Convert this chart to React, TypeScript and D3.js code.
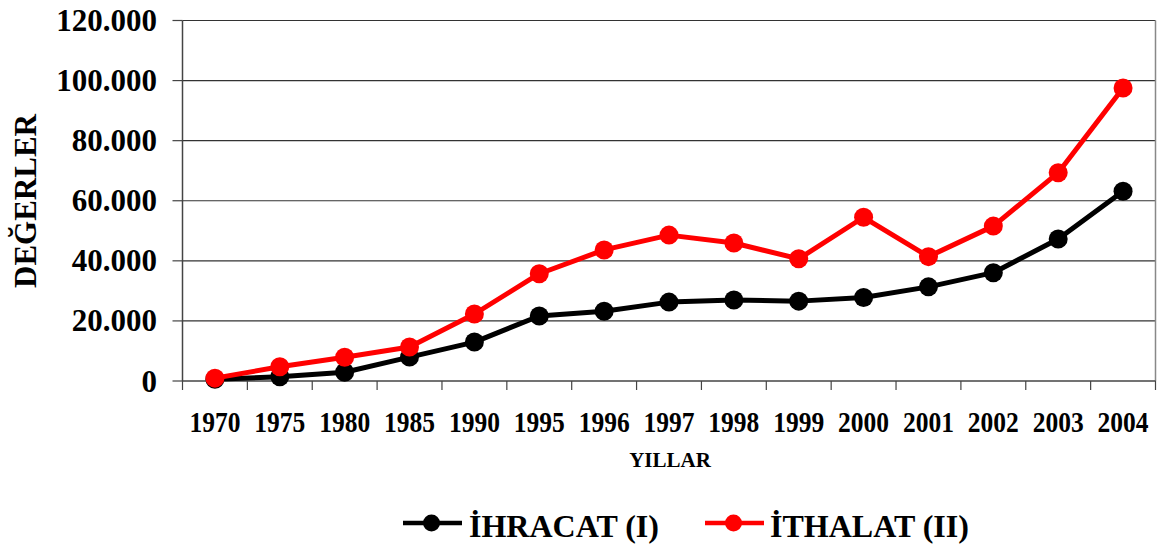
import { useEffect, useRef } from 'react';
import * as d3 from 'd3';

const years = ['1970', '1975', '1980', '1985', '1990', '1995', '1996', '1997', '1998', '1999', '2000', '2001', '2002', '2003', '2004'];
const ihracat = [588, 1401, 2910, 7958, 12959, 21637, 23224, 26261, 26974, 26587, 27775, 31334, 36059, 47253, 63167];
const ithalat = [948, 4739, 7909, 11343, 22302, 35709, 43627, 48559, 45921, 40671, 54503, 41399, 51554, 69340, 97540];
const yTicks = [0, 20000, 40000, 60000, 80000, 100000, 120000];
const seriesNames = ['İHRACAT (I)', 'İTHALAT (II)'];
const seriesColors = ['#000000', '#ff0000'];

const W = 1158;
const H = 544;
const FONT = '"Liberation Serif", "Times New Roman", serif';

export default function App() {
  const svgRef = useRef<SVGSVGElement>(null);

  useEffect(() => {
    const svg = d3.select(svgRef.current);
    svg.selectAll('*').remove();

    const left = 182.5, right = 1155.5, top = 20.5, bottom = 381;

    const x = d3.scaleBand().domain(years).range([left, right]);
    const y = d3.scaleLinear().domain([0, 120000]).range([bottom, top]);
    const cx = (yr: string) => (x(yr) as number) + x.bandwidth() / 2;

    const fmt = d3.formatLocale({ decimal: ',', thousands: '.', grouping: [3], currency: ['', ''] }).format(',d');

    // gridlines
    svg.append('g')
      .selectAll('line')
      .data(yTicks.slice(1))
      .enter()
      .append('line')
      .attr('x1', left).attr('x2', right)
      .attr('y1', d => y(d)).attr('y2', d => y(d))
      .attr('stroke', '#333')
      .attr('stroke-width', 1.2);

    // frame right
    svg.append('line')
      .attr('x1', right).attr('x2', right).attr('y1', top).attr('y2', bottom)
      .attr('stroke', '#888').attr('stroke-width', 1.5);

    // y axis
    svg.append('line')
      .attr('x1', left).attr('x2', left).attr('y1', top).attr('y2', bottom)
      .attr('stroke', '#444').attr('stroke-width', 1.5);
    const yt = svg.append('g');
    yt.selectAll('line')
      .data(yTicks)
      .enter()
      .append('line')
      .attr('x1', left - 10).attr('x2', left)
      .attr('y1', d => y(d)).attr('y2', d => y(d))
      .attr('stroke', '#444').attr('stroke-width', 1.2);
    yt.selectAll('text')
      .data(yTicks)
      .enter()
      .append('text')
      .attr('x', 157)
      .attr('y', d => y(d) + 10.5)
      .attr('text-anchor', 'end')
      .attr('font-family', FONT)
      .attr('font-weight', 'bold')
      .attr('font-size', 31)
      .text(d => fmt(d));

    // x axis
    svg.append('line')
      .attr('x1', left).attr('x2', right).attr('y1', bottom).attr('y2', bottom)
      .attr('stroke', '#444').attr('stroke-width', 1.5);
    const bounds = years.map(d => x(d) as number).concat([right]);
    svg.append('g')
      .selectAll('line')
      .data(bounds)
      .enter()
      .append('line')
      .attr('x1', d => d).attr('x2', d => d)
      .attr('y1', bottom).attr('y2', bottom + 9)
      .attr('stroke', '#444').attr('stroke-width', 1.2);
    svg.append('g')
      .selectAll('text')
      .data(years)
      .enter()
      .append('text')
      .attr('x', d => cx(d))
      .attr('y', 431.5)
      .attr('text-anchor', 'middle')
      .attr('font-family', FONT)
      .attr('font-weight', 'bold')
      .attr('font-size', 30)
      .attr('textLength', 51)
      .attr('lengthAdjust', 'spacingAndGlyphs')
      .text(d => d);

    // axis titles
    svg.append('text')
      .attr('x', 670)
      .attr('y', 467)
      .attr('text-anchor', 'middle')
      .attr('font-family', FONT)
      .attr('font-weight', 'bold')
      .attr('font-size', 21)
      .text('YILLAR');
    svg.append('text')
      .attr('transform', 'translate(36,201) rotate(-90)')
      .attr('text-anchor', 'middle')
      .attr('font-family', FONT)
      .attr('font-weight', 'bold')
      .attr('font-size', 31)
      .text('DEĞERLER');

    // series
    const line = d3.line<number>()
      .x((_, i) => cx(years[i]))
      .y(d => y(d));
    [ihracat, ithalat].forEach((vals, si) => {
      const g = svg.append('g');
      g.append('path')
        .attr('d', line(vals))
        .attr('fill', 'none')
        .attr('stroke', seriesColors[si])
        .attr('stroke-width', 5)
        .attr('stroke-linejoin', 'round');
      g.selectAll('circle')
        .data(vals)
        .enter()
        .append('circle')
        .attr('cx', (_, i) => cx(years[i]))
        .attr('cy', d => y(d))
        .attr('r', 9.5)
        .attr('fill', seriesColors[si]);
    });

    // legend
    const legendX = [403, 705];
    const legendTextX = [469, 770];
    seriesNames.forEach((name, i) => {
      const g = svg.append('g');
      g.append('line')
        .attr('x1', legendX[i]).attr('x2', legendX[i] + 59)
        .attr('y1', 523).attr('y2', 523)
        .attr('stroke', seriesColors[i])
        .attr('stroke-width', 4.5);
      g.append('circle')
        .attr('cx', legendX[i] + 28.5).attr('cy', 523)
        .attr('r', 8.5)
        .attr('fill', seriesColors[i]);
      g.append('text')
        .attr('x', legendTextX[i])
        .attr('y', 536.5)
        .attr('font-family', FONT)
        .attr('font-weight', 'bold')
        .attr('font-size', 32)
        .text(name);
    });
  }, []);

  return (
    <svg
      ref={svgRef}
      width={W}
      height={H}
      style={{ position: 'absolute', left: 0, top: 0, background: '#fff' }}
    />
  );
}
